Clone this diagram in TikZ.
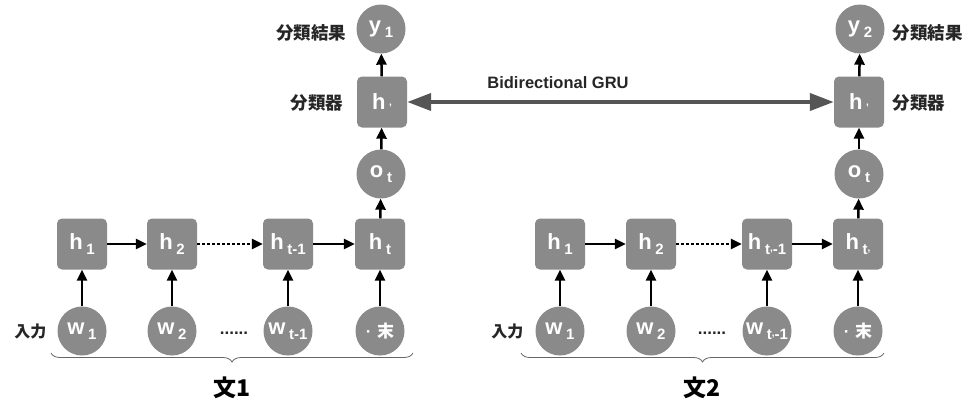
\documentclass[tikz,border=0pt]{standalone}
\usepackage{fontspec}
\setmainfont{Liberation Sans}
\newfontfamily\jpfont{Noto Sans CJK JP}
\usetikzlibrary{arrows.meta,decorations.pathreplacing}
\definecolor{nodegray}{HTML}{8A8A8A}
\definecolor{bigray}{HTML}{555555}
\newcommand\sbx[1]{\,\raisebox{-0.45ex}{\fontsize{15}{15}\selectfont #1}}
\newcommand\tck{\raisebox{0.35ex}{\fontsize{10}{10}\selectfont ,}}
\begin{document}
\begin{tikzpicture}[x=1pt,y=-1pt,
  hbox/.style={rectangle,rounded corners=5pt,fill=nodegray,minimum width=50pt,minimum height=51pt,inner sep=0pt,text=white,font=\bfseries\fontsize{22}{22}\selectfont},
  wcirc/.style={circle,fill=nodegray,minimum size=49pt,inner sep=0pt,text=white,font=\bfseries\fontsize{22}{22}\selectfont},
  arr/.style={line width=2.5pt,-{Triangle[length=11pt,width=10pt]}},
  dotarr/.style={line width=2.5pt,dash pattern=on 2.5pt off 2.5pt,-{Triangle[length=11pt,width=10pt]}},
  lab/.style={font=\jpfont\bfseries\fontsize{17.5}{17.5}\selectfont,text=black!85},
  brc/.style={draw=black!60,line width=0.8pt,decorate,decoration={brace,amplitude=9pt}},
  ttl/.style={font=\jpfont\bfseries\fontsize{23}{23}\selectfont}
]
\useasboundingbox (0,0) rectangle (974,405);
% left chain
\node[hbox] (a1) at (82,244) {h\sbx{1}};
\node[hbox] (a2) at (172,244) {h\sbx{2}};
\node[hbox] (a3) at (288,244) {h\sbx{t-1}};
\node[hbox] (a4) at (380,244) {h\sbx{t}};
\node[wcirc] (aw1) at (82,331) {w\sbx{1}};
\node[wcirc] (aw2) at (172,331) {w\sbx{2}};
\node[wcirc] (aw3) at (288,331) {w\sbx{t-1}};
\node[wcirc] (aw4) at (380,331) {\fontsize{17}{17}\selectfont ·\,\,\jpfont 末};
\node[wcirc] (ao) at (381,174) {o\sbx{t}};
\node[hbox] (ah) at (382,102) {h\,\tck};
\node[wcirc] (ay) at (381,29) {y\sbx{1}};
\node[lab,anchor=east] (al1) at (350,33) {分類結果};
\node[lab,anchor=east] (al2) at (347,103) {分類器};
\node[lab,anchor=east,font=\jpfont\bfseries\fontsize{16}{16}\selectfont] (ain) at (50,331) {入力};
\node[font=\bfseries\fontsize{17}{17}\selectfont,text=black!85] (adots) at (234,333) {......};
\coordinate (ab1) at (413,353);
\coordinate (ab2) at (51,353);
\draw[brc] (ab1) -- (ab2);
\node[ttl] (at) at (232,388) {文1};
\foreach \i in {1,2,3,4} \draw[arr] (aw\i) -- (a\i);
\draw[arr] (a1) -- (a2);
\draw[dotarr] (a2) -- (a3);
\draw[arr] (a3) -- (a4);
\draw[arr] (a4) -- (ao);
\draw[arr] (ao) -- (ah);
\draw[arr] (ah) -- (ay);
% right chain
\node[hbox] (b1) at (560,244) {h\sbx{1}};
\node[hbox] (b2) at (651,244) {h\sbx{2}};
\node[hbox] (b3) at (767,244) {h\sbx{t\tck-1}};
\node[hbox] (b4) at (858,244) {h\sbx{t\tck}};
\node[wcirc] (bw1) at (560,331) {w\sbx{1}};
\node[wcirc] (bw2) at (651,331) {w\sbx{2}};
\node[wcirc] (bw3) at (767,331) {w\sbx{t\tck-1}};
\node[wcirc] (bw4) at (858,331) {\fontsize{17}{17}\selectfont ·\,\,\jpfont 末};
\node[wcirc] (bo) at (859,174) {o\sbx{t}};
\node[hbox] (bh) at (859,102) {h\,\tck};
\node[wcirc] (by) at (860,29) {y\sbx{2}};
\node[lab,anchor=west] (bl1) at (889,33) {分類結果};
\node[lab,anchor=west] (bl2) at (889,103) {分類器};
\node[lab,anchor=east,font=\jpfont\bfseries\fontsize{16}{16}\selectfont] (bin) at (527,331) {入力};
\node[font=\bfseries\fontsize{17}{17}\selectfont,text=black!85] (bdots) at (712,333) {......};
\coordinate (bb1) at (884,353);
\coordinate (bb2) at (521,353);
\draw[brc] (bb1) -- (bb2);
\node[ttl] (bt) at (702,388) {文2};
\foreach \i in {1,2,3,4} \draw[arr] (bw\i) -- (b\i);
\draw[arr] (b1) -- (b2);
\draw[dotarr] (b2) -- (b3);
\draw[arr] (b3) -- (b4);
\draw[arr] (b4) -- (bo);
\draw[arr] (bo) -- (bh);
\draw[arr] (bh) -- (by);
% bidirectional
\draw[bigray,line width=4pt,{Triangle[length=24pt,width=17pt]}-{Triangle[length=24pt,width=17pt]}] (ah) -- (bh);
\node[font=\bfseries\fontsize{16.5}{16.5}\selectfont,text=black!85] (bgru) at (558,83) {Bidirectional GRU};
\end{tikzpicture}
\end{document}
